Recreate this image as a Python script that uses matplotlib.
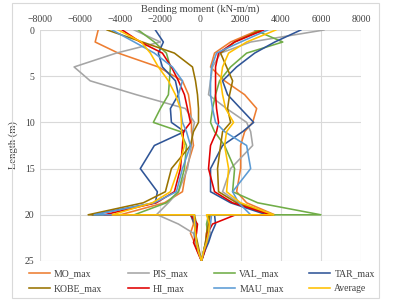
import matplotlib
matplotlib.use("Agg")
import matplotlib.pyplot as plt
from matplotlib.patches import Rectangle

# depths (m) of the upper part (0-20) and the pile tip part (20-25)
depth_up = [0, 1.3, 2.5, 4, 5.5, 7, 8.5, 10, 11, 12.5, 15, 17.5, 18.7, 20]
depth_low = [20, 21, 22, 23, 24, 25]

names = ["MO_max", "PIS_max", "VAL_max", "TAR_max", "KOBE_max", "HI_max", "MAU_max", "Average"]
colors = ["#ED7D31", "#A5A5A5", "#70AD47", "#2F5597", "#997300", "#E00000", "#5B9BD5", "#FFC000"]

# negative envelope, 0 -> 20 m
left_up = {
    "MO_max":   [-5100, -5250, -4100, -2100, -900, -600, -500, -450, -450, -350, -700, -900, -1800, -4000],
    "PIS_max":  [-3300, -2000, -4200, -6300, -5500, -3200, -750, -300, -400, -450, -650, -1100, -1600, -2200],
    "VAL_max":  [-3100, -2300, -1700, -1500, -1550, -1600, -2000, -2350, -1000, -700, -800, -1100, -1700, -3300],
    "TAR_max":  [-2250, -1850, -2100, -1900, -1250, -1100, -1500, -1450, -800, -2300, -3000, -2150, -2250, -5400],
    "KOBE_max": [-4650, -2900, -1300, -400, -250, -150, -100, -100, -350, -500, -1450, -1750, -2850, -5600],
    "HI_max":   [-3900, -3000, -1900, -1450, -1100, -800, -650, -500, -850, -900, -1000, -1300, -2200, -4800],
    "MAU_max":  [-4400, -3300, -2300, -1400, -900, -1100, -1000, -900, -700, -500, -900, -1200, -2300, -5300],
    "Average":  [-4100, -2950, -2500, -2100, -1600, -1250, -1000, -950, -950, -800, -1100, -1500, -2400, -4400],
}

# positive envelope, 0 -> 20 m
right_up = {
    "MO_max":   [2900, 1500, 700, 500, 1200, 2200, 2800, 2600, 2200, 2000, 2000, 1800, 2300, 3700],
    "PIS_max":  [6150, 2500, 1000, 600, 500, 400, 1300, 2300, 2500, 2600, 1500, 1100, 1900, 3650],
    "VAL_max":  [2700, 4100, 2300, 1500, 950, 750, 600, 500, 700, 1200, 1700, 1600, 2850, 6000],
    "TAR_max":  [5000, 3700, 2700, 1800, 1100, 1350, 2000, 2650, 2100, 1100, 500, 500, 1500, 3300],
    "KOBE_max": [3000, 1700, 1000, 1300, 1600, 1450, 1350, 1500, 1100, 1000, 850, 900, 1800, 3600],
    "HI_max":   [3150, 1700, 900, 750, 750, 750, 800, 900, 800, 500, 400, 700, 1600, 3500],
    "MAU_max":  [3350, 2000, 800, 550, 500, 500, 600, 750, 1200, 2300, 2500, 1600, 1900, 2500],
    "Average":  [3750, 2300, 1400, 1100, 1000, 1100, 1250, 1650, 1300, 1200, 1400, 1300, 2000, 3650],
}

# tip part, 20 -> 25 m
left_low = {
    "MO_max":   [-450, -350, -500, -300, -150, 50],
    "PIS_max":  [-2150, -1100, -350, -250, -100, 50],
    "VAL_max":  [-400, -250, -300, -200, -100, 50],
    "TAR_max":  [-500, -300, -250, -200, -100, 50],
    "KOBE_max": [-300, -200, -250, -150, -50, 50],
    "HI_max":   [-500, -150, -200, -350, -150, 50],
    "MAU_max":  [-350, -250, -300, -200, -100, 50],
    "Average":  [-300, -300, -250, -200, -100, 50],
}
right_low = {
    "MO_max":   [500, 400, 300, 250, 150, 50],
    "PIS_max":  [400, 350, 500, 350, 200, 50],
    "VAL_max":  [400, 300, 350, 250, 150, 50],
    "TAR_max":  [700, 750, 550, 400, 200, 50],
    "KOBE_max": [450, 400, 300, 250, 150, 50],
    "HI_max":   [1750, 600, 350, 300, 200, 50],
    "MAU_max":  [550, 500, 400, 300, 150, 50],
    "Average":  [300, 450, 400, 300, 150, 50],
}

plt.rcParams["font.family"] = ["Liberation Serif", "DejaVu Serif"]

fig = plt.figure(figsize=(3.96, 3.04), dpi=100)
ax = fig.add_axes([40 / 396, 1 - 261 / 304, 321 / 396, 231 / 304])

lines = []
for name, c in zip(names, colors):
    # one closed path: down the negative side, round the tip, up the positive side
    xs = left_up[name] + left_low[name] + right_low[name][::-1] + right_up[name][::-1]
    ys = depth_up + depth_low + depth_low[::-1] + depth_up[::-1]
    ln, = ax.plot(xs, ys, color=c, lw=1.15, label=name)
    lines.append(ln)

ax.set_xlim(-8000, 8000)
ax.set_ylim(25, 0)
ax.set_xticks(range(-8000, 8001, 2000))
ax.set_yticks(range(0, 26, 5))
ax.xaxis.tick_top()
ax.xaxis.set_label_position("top")
ax.tick_params(length=0, labelsize=7, colors="#404040", pad=4)
ax.grid(color="#D9D9D9", lw=0.8)
ax.set_axisbelow(True)
for s in ax.spines.values():
    s.set_visible(False)
ax.set_xlabel("Bending moment (kN-m/m)", fontsize=7.6, color="#404040", labelpad=3)
ax.set_ylabel("Length (m)", fontsize=7.6, color="#404040", labelpad=5)

# legend is filled column by column, so reorder to read row by row
order = [0, 4, 1, 5, 2, 6, 3, 7]
fig.legend([lines[i] for i in order], [names[i] for i in order],
           loc="upper left", bbox_to_anchor=(20 / 396, 1 - 261 / 304), ncol=4,
           frameon=False, fontsize=7, handlelength=2.2, columnspacing=2.6,
           handletextpad=0.4, labelspacing=0.55, labelcolor="#404040")

fig.patches.append(Rectangle((12 / 396, 1 - 298 / 304), 367 / 396, 295 / 304,
                             transform=fig.transFigure, fill=False,
                             edgecolor="#D9D9D9", lw=0.8))

fig.savefig("out.png", dpi=100)
